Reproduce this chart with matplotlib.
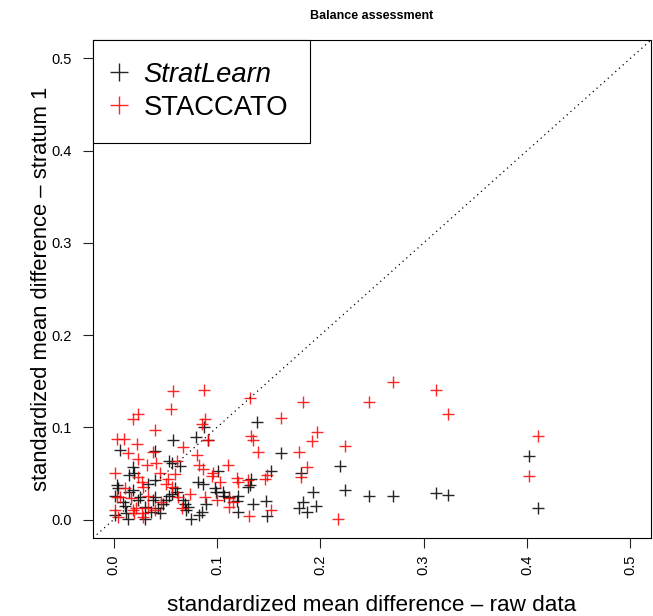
import matplotlib
matplotlib.use("Agg")
import matplotlib.pyplot as plt
from matplotlib.lines import Line2D

plt.rcParams['font.family'] = ['Liberation Sans', 'DejaVu Sans']

title = "Balance assessment"
xlabel = "standardized mean difference \u2013 raw data"
ylabel = "standardized mean difference \u2013 stratum 1"
series_names = ["StratLearn", "STACCATO"]
ticks = [0.0, 0.1, 0.2, 0.3, 0.4, 0.5]
tick_labels = ["0.0", "0.1", "0.2", "0.3", "0.4", "0.5"]

# StratLearn (black)
strat_x = [0.219, 0.402, 0.224, 0.247, 0.270, 0.312, 0.324, 0.411, 0.162, 0.152,
           0.181, 0.193, 0.147, 0.183, 0.179, 0.196, 0.187, 0.148, 0.139, 0.133,
           0.132, 0.130, 0.135, 0.120, 0.120, 0.119, 0.101, 0.082, 0.086, 0.098,
           0.099, 0.106, 0.107, 0.112, 0.067, 0.069, 0.089, 0.072, 0.070, 0.085,
           0.083, 0.075, 0.087, 0.080, 0.091, 0.057, 0.040, 0.006, 0.054, 0.056,
           0.019, 0.015, 0.020, 0.040, 0.003, 0.004, 0.019, 0.015, 0.033, 0.059,
           0.061, 0.056, 0.054, 0.001, 0.009, 0.011, 0.024, 0.025, 0.040, 0.038,
           0.051, 0.048, 0.001, 0.012, 0.014, 0.030, 0.036, 0.043, 0.045, 0.030,
           0.064]
strat_y = [0.058, 0.069, 0.032, 0.026, 0.026, 0.029, 0.027, 0.013, 0.072, 0.053,
           0.051, 0.030, 0.020, 0.019, 0.012, 0.015, 0.008, 0.004, 0.106, 0.044,
           0.038, 0.035, 0.017, 0.008, 0.026, 0.020, 0.053, 0.041, 0.039, 0.034,
           0.030, 0.030, 0.026, 0.024, 0.021, 0.017, 0.017, 0.014, 0.010, 0.008,
           0.005, 0.001, 0.100, 0.089, 0.086, 0.086, 0.074, 0.075, 0.064, 0.061,
           0.057, 0.048, 0.050, 0.043, 0.037, 0.034, 0.032, 0.030, 0.039, 0.034,
           0.030, 0.028, 0.026, 0.026, 0.019, 0.015, 0.021, 0.024, 0.024, 0.021,
           0.021, 0.017, 0.005, 0.007, 0.001, 0.014, 0.008, 0.012, 0.007, 0.001,
           0.058]

# STACCATO (red)
stac_x = [0.057, 0.087, 0.055, 0.024, 0.019, 0.040, 0.003, 0.010, 0.023, 0.132,
          0.088, 0.085, 0.091, 0.067, 0.133, 0.135, 0.140, 0.183, 0.162, 0.197,
          0.192, 0.179, 0.187, 0.181, 0.148, 0.146, 0.130, 0.111, 0.119, 0.120,
          0.112, 0.115, 0.152, 0.131, 0.217, 0.081, 0.083, 0.086, 0.096, 0.095,
          0.103, 0.074, 0.088, 0.100, 0.066, 0.112, 0.014, 0.024, 0.038, 0.041,
          0.061, 0.032, 0.001, 0.024, 0.045, 0.027, 0.011, 0.028, 0.051, 0.053,
          0.056, 0.062, 0.003, 0.006, 0.017, 0.033, 0.046, 0.001, 0.004, 0.019,
          0.020, 0.022, 0.027, 0.028, 0.033, 0.040, 0.059, 0.270, 0.312, 0.247,
          0.324, 0.411, 0.224, 0.402]
stac_y = [0.139, 0.140, 0.120, 0.114, 0.109, 0.097, 0.087, 0.087, 0.082, 0.132,
          0.109, 0.104, 0.086, 0.079, 0.091, 0.086, 0.073, 0.127, 0.110, 0.095,
          0.085, 0.073, 0.057, 0.046, 0.048, 0.044, 0.043, 0.059, 0.045, 0.041,
          0.023, 0.019, 0.010, 0.004, 0.001, 0.070, 0.059, 0.055, 0.050, 0.047,
          0.041, 0.028, 0.024, 0.021, 0.012, 0.014, 0.072, 0.066, 0.073, 0.061,
          0.064, 0.059, 0.050, 0.046, 0.050, 0.041, 0.034, 0.035, 0.039, 0.044,
          0.035, 0.024, 0.024, 0.024, 0.023, 0.026, 0.019, 0.010, 0.003, 0.010,
          0.007, 0.012, 0.007, 0.003, 0.012, 0.010, 0.049, 0.149, 0.140, 0.127,
          0.114, 0.091, 0.080, 0.047]

black = "#000000"
red = "#FF0000"

fig = plt.figure(figsize=(6.53, 6.16), dpi=100)
ax = fig.add_axes([93 / 653, (616 - 538) / 616, (651 - 93) / 653, (538 - 40) / 616])

ms = 8
mew = 1.0
ax.plot(strat_x, strat_y, linestyle='none', marker='+', color=black,
        markersize=ms, markeredgewidth=mew, alpha=0.85)
ax.plot(stac_x, stac_y, linestyle='none', marker='+', color=red,
        markersize=ms, markeredgewidth=mew, alpha=0.85)
ax.axline((0, 0), slope=1, linestyle=(0, (1, 3)), color='black', linewidth=0.9)

ax.set_xlim(-0.02, 0.52)
ax.set_ylim(-0.02, 0.52)
ax.set_xticks(ticks)
ax.set_xticklabels(tick_labels, rotation=90)
ax.set_yticks(ticks)
ax.set_yticklabels(tick_labels)
ax.tick_params(axis='both', direction='out', length=7, width=0.8, labelsize=10.5,
               color='#222222')
ax.tick_params(axis='y', pad=8)
ax.tick_params(axis='x', pad=5)
for s in ax.spines.values():
    s.set_linewidth(0.8)

ax.set_xlabel(xlabel, fontsize=16.2)
ax.xaxis.set_label_coords(0.5, -0.136)
ax.xaxis.label.set_va('center')
ax.set_ylabel(ylabel, fontsize=15.8)
ax.yaxis.set_label_coords(-0.093, 0.5)
ax.yaxis.label.set_va('center')

ax.set_title(title, fontsize=9, fontweight='bold', pad=15)

handles = [Line2D([], [], linestyle='none', marker='+', color=black, markersize=13,
                  markeredgewidth=1.0, alpha=0.85),
           Line2D([], [], linestyle='none', marker='+', color=red, markersize=13,
                  markeredgewidth=1.0, alpha=0.85)]
leg = ax.legend(handles, series_names, loc='upper left', borderaxespad=0,
                fontsize=19.7, fancybox=False, framealpha=1, edgecolor='black',
                borderpad=0.8, handlelength=0.3, handletextpad=0.75,
                labelspacing=0.26)
leg.get_frame().set_linewidth(0.8)
leg.get_texts()[0].set_style('italic')

fig.savefig("out.png", dpi=100)
